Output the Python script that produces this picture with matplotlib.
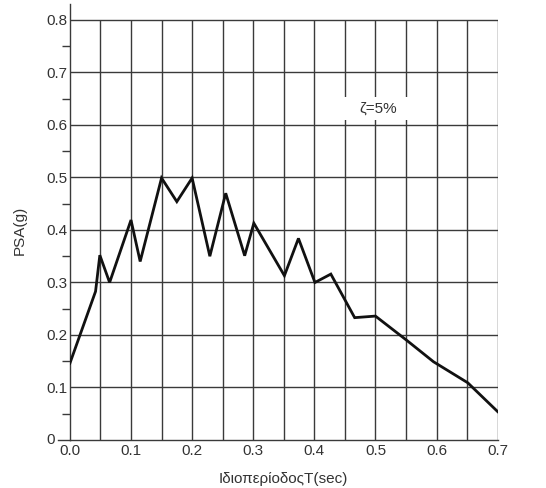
import matplotlib
matplotlib.use("Agg")
import matplotlib.pyplot as plt
from matplotlib.patches import Rectangle
from matplotlib.ticker import MultipleLocator

# Spectral acceleration
period = [0.0, 0.042, 0.049, 0.065, 0.100, 0.115, 0.150, 0.175, 0.200, 0.229,
          0.255, 0.286, 0.301, 0.351, 0.374, 0.401, 0.427, 0.466, 0.500, 0.551,
          0.595, 0.651, 0.700]
psa = [0.146, 0.283, 0.352, 0.300, 0.419, 0.340, 0.499, 0.454, 0.499, 0.350,
       0.470, 0.351, 0.413, 0.313, 0.384, 0.300, 0.316, 0.233, 0.236, 0.190,
       0.149, 0.109, 0.054]

x_ticks = [0.0, 0.1, 0.2, 0.3, 0.4, 0.5, 0.6, 0.7]
x_tick_labels = ["0.0", "0.1", "0.2", "0.3", "0.4", "0.5", "0.6", "0.7"]
y_ticks = [0.0, 0.1, 0.2, 0.3, 0.4, 0.5, 0.6, 0.7, 0.8]
y_tick_labels = ["", "0.1", "0.2", "0.3", "0.4", "0.5", "0.6", "0.7", "0.8"]
origin_label = "0"
x_grid = [0.05 * i for i in range(1, 15)]
damping_label = "ζ=5%"

plt.rcParams.update({"font.family": ["Liberation Sans", "DejaVu Sans"], "font.size": 11})
grid_col = "#3a3a3a"
text_col = "#333333"

fig = plt.figure(figsize=(5.46, 4.88), dpi=100)
ax = fig.add_axes([0.128, 0.0984, 0.7835, 0.8929])
ax.set_xlim(0, 0.7)
ax.set_ylim(0, 0.83)

# grid stops at 0.8 while the left axis runs a bit higher
ax.vlines(x_grid, 0, 0.8, color=grid_col, lw=1.0, zorder=1)
ax.hlines(y_ticks[1:], 0, 0.7, color=grid_col, lw=1.0, zorder=1)
# little stub of the x axis left of the origin
ax.plot([-0.02, 0], [0, 0], color=grid_col, lw=1.0, clip_on=False)
ax.annotate(origin_label, xy=(0, 0), xytext=(-15, 0), textcoords="offset pixels",
            ha="right", va="center", color=text_col, fontsize=11,
            annotation_clip=False)

ax.plot(period, psa, color="#111111", lw=2.0, zorder=3, solid_joinstyle="miter")

# white label box that blanks the grid behind the damping note
ax.add_patch(Rectangle((0.437, 0.61), 0.136, 0.044, facecolor="white",
                       edgecolor="none", zorder=2))
ax.text(0.505, 0.632, damping_label, ha="center", va="center", color=text_col,
        fontsize=11, zorder=4)

for s in ["top", "right"]:
    ax.spines[s].set_visible(False)
for s in ["left", "bottom"]:
    ax.spines[s].set_color(grid_col)
    ax.spines[s].set_linewidth(1.0)

ax.set_xticks(x_ticks)
ax.set_xticklabels(x_tick_labels)
ax.set_yticks(y_ticks)
ax.set_yticklabels(y_tick_labels)
ax.yaxis.set_minor_locator(MultipleLocator(0.05))
ax.tick_params(axis="x", length=0, pad=3, colors=text_col, labelsize=11)
ax.tick_params(axis="y", which="major", length=0, color=grid_col,
               labelcolor=text_col, pad=2, labelsize=11)
ax.tick_params(axis="y", which="minor", length=6, width=1.0, color=grid_col)

ax.set_xlabel("ΙδιοπερίοδοςT(sec)", color=text_col, fontsize=11, labelpad=10)
ax.set_ylabel("PSA(g)", color=text_col, fontsize=11)
ax.yaxis.set_label_coords(-0.1, 0.482)

fig.savefig("out.png", dpi=100)
plt.close(fig)
